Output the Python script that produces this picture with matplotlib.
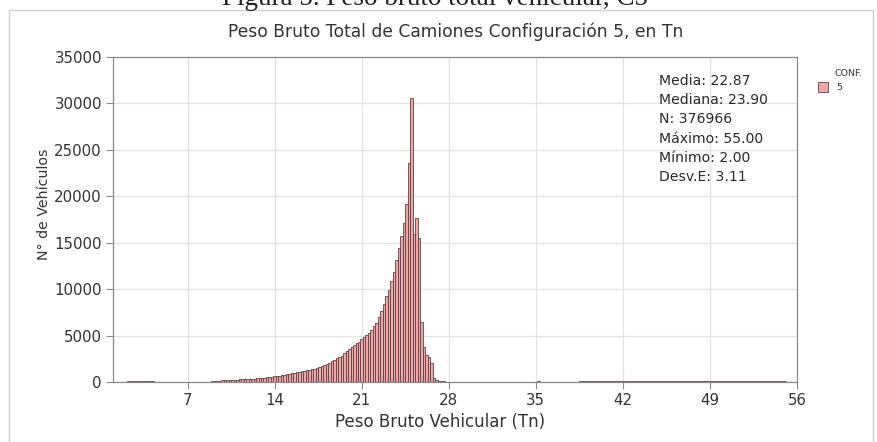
import numpy as np
import matplotlib
matplotlib.use("Agg")
import matplotlib.pyplot as plt
from matplotlib.patches import Rectangle

# ---------------- data ----------------
caption = "Figura 5. Peso bruto total vehicular, C5"
title = "Peso Bruto Total de Camiones Configuración 5, en Tn"
x_label = "Peso Bruto Vehicular (Tn)"
y_label = "N° de Vehículos"
legend_title = "CONF."
series_name = "5"
x_ticks = [7, 14, 21, 28, 35, 42, 49, 56]
y_ticks = [0, 5000, 10000, 15000, 20000, 25000, 30000, 35000]
stats_labels = ["Media", "Mediana", "N", "Máximo", "Mínimo", "Desv.E"]
stats_values = ["22.87", "23.90", "376966", "55.00", "2.00", "3.11"]

bin_first_center = 2.0
bin_width = 0.2
# bins centred at 2.0 ... 29.0
counts_main = [
    40, 60, 70, 80, 90, 85, 80, 75, 70, 65, 60, 55, 50, 40,
    20, 15, 10, 10, 8, 8, 6, 6, 5, 5, 6, 6, 8, 8, 10, 12, 15,
    20, 30, 40, 50, 70, 100, 120, 150, 180, 200,
    210, 225, 240, 250, 260, 270, 280, 290, 305, 320,
    340, 360, 380, 410, 440, 470, 500, 540, 580, 620,
    660, 700, 750, 800, 850, 900, 950, 1000, 1050, 1100,
    1150, 1200, 1250, 1310, 1370, 1430, 1500, 1580, 1680, 1800,
    1950, 2100, 2250, 2400, 2550, 2700, 2850, 3100, 3300, 3550,
    3750, 3950, 4150, 4350, 4600, 4800, 5050, 5300, 5600, 6000,
    6400, 7000, 7600, 8350, 9250, 9950, 10900, 11800, 13100, 14400,
    15700, 17100, 19200, 23550, 30600,
    15900, 17650, 15500, 6500, 3800,
    2900, 2700, 2000, 450, 200, 150, 100, 80, 50, 30,
    20, 15, 10, 8, 5,
]
# bins centred at 29.2 ... 55.0
counts_tail = [
    4, 4, 3, 3, 3, 3, 2, 2, 2, 2, 2, 2, 2, 2, 2, 2, 2, 2, 2, 2, 2, 2, 2, 2, 3, 3, 3, 4, 5,
    40, 55, 45, 25,
    5, 4, 4, 4, 4, 5, 5, 5, 6, 6, 8, 8, 10, 20,
    70, 80, 85, 90, 80, 85, 90, 80, 75, 80, 85, 75, 70, 75, 80, 70, 65, 70, 65, 60,
    65, 70, 65, 60, 65, 70, 65, 60, 65, 60, 58, 60, 65, 60, 58, 60, 65, 60, 58, 60,
    65, 60, 58, 60, 58, 60, 65, 60, 58, 60, 58, 58, 60, 58, 55, 58, 60, 58, 55, 58,
    60, 58, 55, 58, 60, 58, 55, 58, 60, 58, 55, 58, 60, 58, 55, 58, 60, 58, 55, 58,
    60, 62, 65,
]

counts = np.array(counts_main + counts_tail, dtype=float)
centers = bin_first_center + bin_width * np.arange(len(counts))

# ---------------- style ----------------
W, H = 878, 442
main_font = ["DejaVu Sans"]
text_col = "#333333"
spine_col = "#8a8a8a"
bar_fill = "#f2a5a5"
bar_edge = "#5a4545"

fig = plt.figure(figsize=(W / 100, H / 100), dpi=100)
fig.patch.set_facecolor("white")

def fx(px):
    return px / W

def fy(py):
    return 1 - py / H

# outer frame
fig.add_artist(Rectangle((fx(9), fy(460)), fx(873) - fx(9), fy(10) - fy(460),
                         transform=fig.transFigure, fill=False,
                         edgecolor="#d0d0d0", linewidth=1.0))

# caption at the top edge (cut, as in the source image)
fig.text(fx(222), fy(5), caption, family=["Liberation Serif"], fontsize=19.5,
         color="#222222", ha="left", va="baseline")

ax = fig.add_axes([fx(113), fy(382), fx(797) - fx(113), fy(57) - fy(382)])
ax.bar(centers, counts, width=bin_width, color=bar_fill, edgecolor=bar_edge,
       linewidth=0.6, zorder=2)
ax.set_xlim(1, 56)
ax.set_ylim(0, 35000)
ax.set_xticks(x_ticks)
ax.set_yticks(y_ticks)
ax.set_xticklabels([str(t) for t in x_ticks], family=main_font, fontsize=10.8, color=text_col)
ax.set_yticklabels([str(t) for t in y_ticks], family=main_font, fontsize=10.8, color=text_col)
ax.grid(True, color="#e2e2e2", linewidth=0.9, zorder=0)
ax.set_axisbelow(True)
for s in ax.spines.values():
    s.set_color(spine_col)
    s.set_linewidth(0.9)
ax.tick_params(direction="out", length=5, width=0.8, color=spine_col, pad=3)

# titles / labels
fig.text(fx(456), fy(32), title, family=main_font, fontsize=12.3, color=text_col,
         ha="center", va="center")
fig.text(fx(440), fy(422), x_label, family=main_font, fontsize=12, color=text_col,
         ha="center", va="center")
fig.text(fx(44), fy(204), y_label, family=main_font, fontsize=10.2, color=text_col,
         ha="center", va="center", rotation=90)

# stats text
for i, (lab, val) in enumerate(zip(stats_labels, stats_values)):
    fig.text(fx(659), fy(81 + 19.2 * i), f"{lab}: {val}", family=["DejaVu Sans"],
             fontsize=10.1, color="#2a2a2a", ha="left", va="center")

# legend
fig.text(fx(835), fy(73), legend_title, family=main_font, fontsize=6.8,
         color=text_col, ha="left", va="center")
fig.add_artist(Rectangle((fx(818), fy(92)), fx(828) - fx(818), fy(82) - fy(92),
                         transform=fig.transFigure, facecolor=bar_fill,
                         edgecolor=bar_edge, linewidth=0.6))
fig.text(fx(836), fy(87), series_name, family=main_font, fontsize=6.8,
         color=text_col, ha="left", va="center")

fig.savefig("out.png", dpi=100)
